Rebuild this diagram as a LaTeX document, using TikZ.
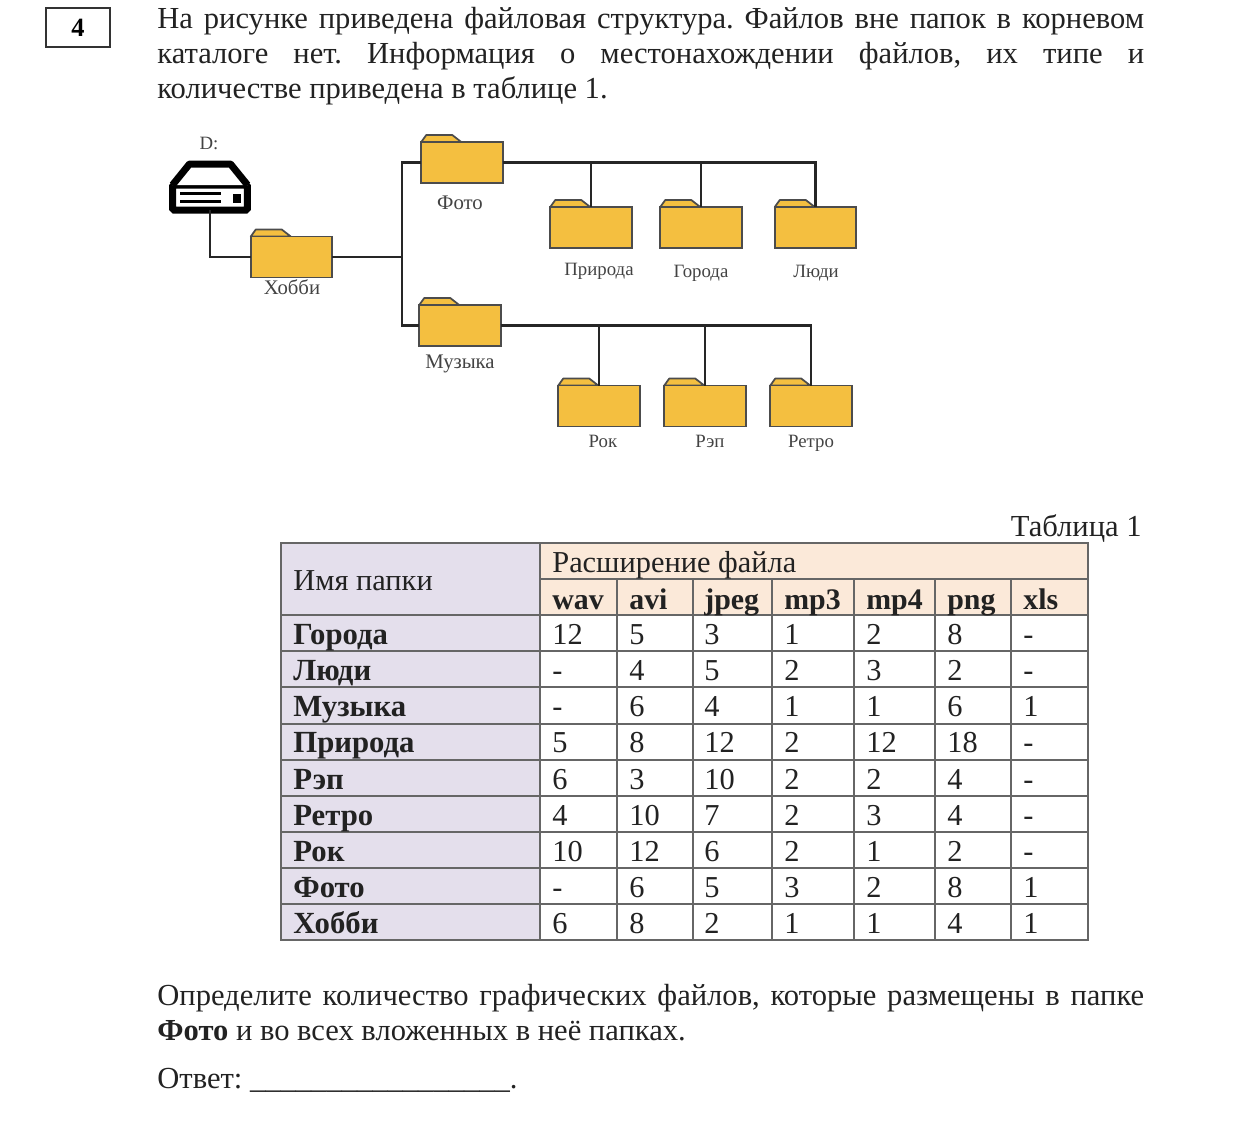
\documentclass[tikz,border=0pt]{standalone}
\usepackage{fontspec}
\setmainfont{Liberation Serif}
\usepackage{tikz}
\definecolor{foldercol}{HTML}{F4BF40}
\definecolor{headcol}{HTML}{E4DFEC}
\definecolor{extcol}{HTML}{FBE9D9}
\definecolor{gridcol}{HTML}{666666}
\definecolor{inkcol}{HTML}{222222}
\frenchspacing
\tikzset{
  bodytext/.style={anchor=base west,inner sep=0pt,text=inkcol,font=\fontsize{17.4}{20}\selectfont},
  celltext/.style={anchor=base west,inner sep=0pt,text=inkcol,font=\fontsize{17.3}{20}\selectfont},
  cellbold/.style={celltext,font=\fontsize{17.5}{20}\bfseries\selectfont},
  extbold/.style={celltext,font=\fontsize{17}{20}\bfseries\selectfont},
  folderlabel/.style={inner sep=0pt,anchor=base,text=inkcol!85,font=\fontsize{10.7}{13}\selectfont},
  biglabel/.style={folderlabel,font=\fontsize{11.8}{13}\selectfont},
  conn/.style={line width=0.05cm,black!85},
  grid/.style={line width=0.022cm,gridcol},
  foldertab/.style={draw=black!70,line width=0.035cm,fill=foldercol,line join=round},
  folderbox/.style={draw=black!70,line width=0.035cm,fill=foldercol,minimum width=1.63cm,minimum height=0.82cm,
    inner sep=0pt,outer sep=0pt,append after command={
      \pgfextra{\draw[foldertab] (\tikzlastnode.north west)--++(5,-7)--++(26,0)--++(9,7)--cycle;}}},
}
\newcommand{\fullline}[1]{\makebox[19.74cm][s]{#1}}
\begin{document}
\begin{tikzpicture}[x=0.02cm,y=-0.02cm]
\useasboundingbox (0,0) rectangle (1242,1126);
% task number
\node[draw=black!80,line width=0.03cm,minimum width=1.28cm,minimum height=0.78cm,inner sep=0pt,
  font=\fontsize{15}{18}\bfseries\selectfont] (tasknum) at (78,27.5) {4};
% top text
\node[bodytext] (line1) at (157,28) {\fullline{На рисунке приведена файловая структура. Файлов вне папок в корневом}};
\node[bodytext] (line2) at (157,63) {\fullline{каталоге нет. Информация о местонахождении файлов, их типе и}};
\node[bodytext] (line3) at (157,98) {количестве приведена в таблице 1.};
% drive
\node[draw=black,fill=white,line width=0.14cm,rounded corners=0.03cm,minimum width=1.5cm,minimum height=0.5cm,
  inner sep=0pt,outer sep=0pt] (drive) at (210,197.5) {};
\draw[line width=0.14cm,line join=round,fill=white] (drive.north west)--++(17,-21)--++(41,0)--++(17,21);
\draw[line width=0.06cm] (180,193)--(221,193) (180,201)--(221,201);
\fill (233,194) rectangle (241,203);
\node[folderlabel] (drivelabel) at (209,149) {D:};
% folders
\node[folderbox] (hobbi) at (291.5,257) {};
\node[folderbox] (foto) at (462,162.5) {};
\node[folderbox] (muzyka) at (460,325.5) {};
\node[folderbox] (priroda) at (591,227.5) {};
\node[folderbox] (goroda) at (701,227.5) {};
\node[folderbox] (lyudi) at (815.5,227.5) {};
\node[folderbox] (rok) at (599,406) {};
\node[folderbox] (rep) at (705,406) {};
\node[folderbox] (retro) at (811,406) {};
% connectors
\coordinate (junction) at (402,257);
\draw[conn] (drive.south) |- (hobbi.west);
\draw[conn] (hobbi.east) -- (junction);
\draw[conn] (foto.west) -| (junction) |- (muzyka.west);
\draw[conn] (foto.east) -| (priroda.north);
\draw[conn] (foto.east) -| (goroda.north);
\draw[conn] (foto.east) -| (lyudi.north);
\draw[conn] (muzyka.east) -| (rok.north);
\draw[conn] (muzyka.east) -| (rep.north);
\draw[conn] (muzyka.east) -| (retro.north);
% folder labels
\node[biglabel] (hobbilabel) at (292,294) {Хобби};
\node[biglabel] (fotolabel) at (460,209) {Фото};
\node[biglabel] (muzykalabel) at (460,368) {Музыка};
\node[folderlabel] (prirodalabel) at (599,275) {Природа};
\node[folderlabel] (gorodalabel) at (701,277) {Города};
\node[folderlabel] (lyudilabel) at (816,277) {Люди};
\node[folderlabel] (roklabel) at (603,447) {Рок};
\node[folderlabel] (replabel) at (710,447) {Рэп};
\node[folderlabel] (retrolabel) at (811,447) {Ретро};
% table
\node[bodytext,anchor=base east] (tablecap) at (1142,536) {Таблица 1};
\fill[headcol] (281,543) rectangle (540,940);
\fill[extcol] (540,543) rectangle (1088,615);
\foreach \y in {615,651,687,724,760,796,832,868,904}
  \draw[grid] (281,\y)--(1088,\y);
\draw[grid] (540,579)--(1088,579);
\foreach \x in {617,693,772,854,935,1011}
  \draw[grid] (\x,579)--(\x,940);
\draw[grid] (281,543) rectangle (1088,940);
\draw[grid] (540,543)--(540,940);
\node[celltext] (namehead) at (293,590) {Имя папки};
\node[celltext] (exthead) at (552,572) {Расширение файла};
\foreach \t [count=\c] in {wav,avi,jpeg,mp3,mp4,png,xls}{
  \pgfmathsetmacro\xpos{{552,629,704,784,866,947,1023}[\c-1]}
  \node[extbold] (ext\c) at (\xpos,609) {\t};
}
\foreach \fname/\vals [count=\r] in {Города/{12,5,3,1,2,8,-},Люди/{-,4,5,2,3,2,-},Музыка/{-,6,4,1,1,6,1},
  Природа/{5,8,12,2,12,18,-},Рэп/{6,3,10,2,2,4,-},Ретро/{4,10,7,2,3,4,-},Рок/{10,12,6,2,1,2,-},
  Фото/{-,6,5,3,2,8,1},Хобби/{6,8,2,1,1,4,1}}{
  \pgfmathsetmacro\ypos{608.5+36.1*\r}
  \node[cellbold] (row\r) at (293,\ypos) {\fname};
  \foreach \v [count=\c] in \vals {
    \pgfmathsetmacro\xpos{{552,629,704,784,866,947,1023}[\c-1]}
    \node[celltext] (cell\r-\c) at (\xpos,\ypos) {\v};
  }
}
% bottom text
\node[bodytext] (line4) at (157,1005) {\fullline{Определите количество графических файлов, которые размещены в папке}};
\node[bodytext] (line5) at (157,1040) {\textbf{Фото} и во всех вложенных в неё папках.};
\node[bodytext] (answer) at (157,1088) {Ответ: \_\_\_\_\_\_\_\_\_\_\_\_\_\_\_\_\_.};
\end{tikzpicture}
\end{document}
